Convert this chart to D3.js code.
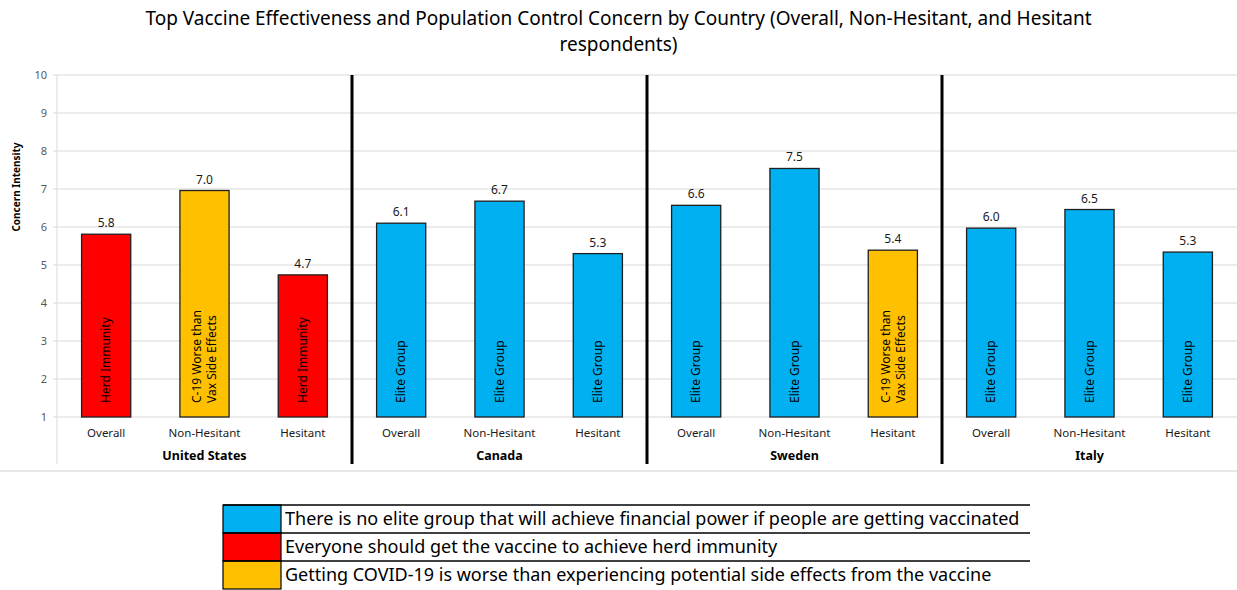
<!DOCTYPE html>
<html>
<head>
<meta charset="utf-8">
<script src="https://cdn.jsdelivr.net/npm/d3@7"></script>
<style>
  body { margin: 0; background: #fff; }
  svg { display: block; font-family: "Noto Sans", "Open Sans", sans-serif; }
</style>
</head>
<body>
<div id="chart"></div>
<script>
// chart data
const countries = ['United States', 'Canada', 'Sweden', 'Italy'];
const groups = ['Overall', 'Non-Hesitant', 'Hesitant'];
const values = {
  'United States': [5.81, 6.96, 4.74],
  'Canada': [6.10, 6.68, 5.30],
  'Sweden': [6.57, 7.54, 5.39],
  'Italy': [5.97, 6.46, 5.34]
};
const topConcern = {
  'United States': ['herd', 'c19', 'herd'],
  'Canada': ['elite', 'elite', 'elite'],
  'Sweden': ['elite', 'elite', 'c19'],
  'Italy': ['elite', 'elite', 'elite']
};
const concernKeys = ['elite', 'herd', 'c19'];
const concernShort = {
  elite: ['Elite Group'],
  herd: ['Herd Immunity'],
  c19: ['C-19 Worse than', 'Vax Side Effects']
};
const concernLong = [
  'There is no elite group that will achieve financial power if people are getting vaccinated',
  'Everyone should get the vaccine to achieve herd immunity',
  'Getting COVID-19 is worse than experiencing potential side effects from the vaccine'
];
const yTicks = [1, 2, 3, 4, 5, 6, 7, 8, 9, 10];

const W = 1237, H = 590;
const margin = {top: 75, right: 0, bottom: 173, left: 57};
const plotH = H - margin.top - margin.bottom; // 342

const svg = d3.select('#chart').append('svg')
    .attr('width', W)
    .attr('height', H);

const color = d3.scaleOrdinal()
    .domain(concernKeys)
    .range(['#00B0F0', '#FF0000', '#FFC000']);

// flatten to one bar per country/group
const rows = [];
countries.forEach(c => groups.forEach((g, i) => {
  rows.push({country: c, group: g, value: values[c][i], concern: topConcern[c][i]});
}));

const x0 = d3.scaleBand()
    .domain(countries)
    .range([margin.left, W - margin.right]);

const x1 = d3.scaleBand()
    .domain(groups)
    .range([0, x0.bandwidth()])
    .paddingInner(0.5)
    .paddingOuter(0.25);

const y = d3.scaleLinear()
    .domain([1, 10])
    .range([margin.top + plotH, margin.top]);

// title
svg.append('text')
    .attr('x', W / 2)
    .attr('y', 25)
    .attr('text-anchor', 'middle')
    .style('font-size', '19px')
    .selectAll('tspan')
    .data(['Top Vaccine Effectiveness and Population Control Concern by Country (Overall, Non-Hesitant, and Hesitant', 'respondents)'])
    .join('tspan')
    .attr('x', W / 2)
    .attr('dy', (d, i) => i === 0 ? 0 : 26)
    .text(d => d);

// gridlines
svg.append('g')
    .selectAll('line')
    .data(yTicks)
    .join('line')
    .attr('x1', margin.left - 4)
    .attr('x2', W)
    .attr('y1', d => y(d))
    .attr('y2', d => y(d))
    .attr('stroke', '#d9d9d9')
    .attr('stroke-width', 1);

// y axis labels
svg.append('g')
    .selectAll('text')
    .data(yTicks)
    .join('text')
    .attr('x', margin.left - 10)
    .attr('y', d => y(d))
    .attr('dy', '0.35em')
    .attr('text-anchor', 'end')
    .style('font-size', '11px')
    .attr('fill', '#595959')
    .text(d => d);

svg.append('text')
    .attr('transform', 'translate(20,187) rotate(-90)')
    .attr('text-anchor', 'middle')
    .style('font-size', '10px')
    .style('font-weight', 'bold')
    .text('Concern Intensity');

// axis frame lines
svg.append('line')
    .attr('x1', margin.left).attr('x2', margin.left)
    .attr('y1', margin.top).attr('y2', 464)
    .attr('stroke', '#d9d9d9');
svg.append('line')
    .attr('x1', 0).attr('x2', W)
    .attr('y1', 471).attr('y2', 471)
    .attr('stroke', '#d0d0d0')
    .attr('stroke-width', 1.2);

// bars
const bars = svg.append('g')
    .selectAll('g')
    .data(rows)
    .join('g')
    .attr('transform', d => `translate(${x0(d.country) + x1(d.group)},0)`);

bars.append('rect')
    .attr('x', 0)
    .attr('y', d => y(d.value))
    .attr('width', x1.bandwidth())
    .attr('height', d => y(1) - y(d.value))
    .attr('fill', d => color(d.concern))
    .attr('stroke', '#1f1f1f')
    .attr('stroke-width', 1.3);

bars.append('text')
    .attr('x', x1.bandwidth() / 2)
    .attr('y', d => y(d.value) - 7)
    .attr('text-anchor', 'middle')
    .style('font-size', '12px')
    .attr('fill', '#1a1a1a')
    .text(d => d.value.toFixed(1));

// rotated labels inside bars
bars.each(function(d) {
  const lines = concernShort[d.concern];
  const cx = x1.bandwidth() / 2;
  const off = (lines.length - 1) * 7.5;
  d3.select(this).append('text')
      .attr('transform', `translate(${cx},${y(1) - 14}) rotate(-90)`)
      .style('font-size', '12px')
      .attr('fill', '#000')
      .selectAll('tspan')
      .data(lines)
      .join('tspan')
      .attr('x', 0)
      .attr('y', (t, i) => i * 15 - off)
      .attr('dy', '0.35em')
      .text(t => t);
});

// category labels
bars.append('text')
    .attr('x', x1.bandwidth() / 2)
    .attr('y', 437)
    .attr('text-anchor', 'middle')
    .style('font-size', '11.5px')
    .attr('fill', '#1a1a1a')
    .text(d => d.group);

svg.append('g')
    .selectAll('text')
    .data(countries)
    .join('text')
    .attr('x', d => x0(d) + x0.bandwidth() / 2)
    .attr('y', 460)
    .attr('text-anchor', 'middle')
    .style('font-size', '12.5px')
    .style('font-weight', 'bold')
    .text(d => d);

// country separators
svg.append('g')
    .selectAll('line')
    .data(countries.slice(1))
    .join('line')
    .attr('x1', d => x0(d)).attr('x2', d => x0(d))
    .attr('y1', margin.top).attr('y2', 464)
    .attr('stroke', '#000')
    .attr('stroke-width', 3);

// legend table
const legX = 223, legX2 = 1030, swW = 58;
const legY = d3.scaleBand()
    .domain(concernKeys)
    .range([505, 589]);

const leg = svg.append('g');
leg.selectAll('rect')
    .data(concernKeys)
    .join('rect')
    .attr('x', legX)
    .attr('y', d => legY(d))
    .attr('width', swW)
    .attr('height', legY.bandwidth())
    .attr('fill', d => color(d))
    .attr('stroke', '#000')
    .attr('stroke-width', 1.2);

leg.selectAll('line')
    .data(concernKeys)
    .join('line')
    .attr('x1', legX).attr('x2', legX2)
    .attr('y1', d => legY(d)).attr('y2', d => legY(d))
    .attr('stroke', '#000')
    .attr('stroke-width', 1.5);

leg.selectAll('text')
    .data(concernKeys)
    .join('text')
    .attr('x', legX + swW + 4)
    .attr('y', d => legY(d) + legY.bandwidth() / 2)
    .attr('dy', '0.35em')
    .style('font-size', '18px')
    .text((d, i) => concernLong[i]);
</script>
</body>
</html>
